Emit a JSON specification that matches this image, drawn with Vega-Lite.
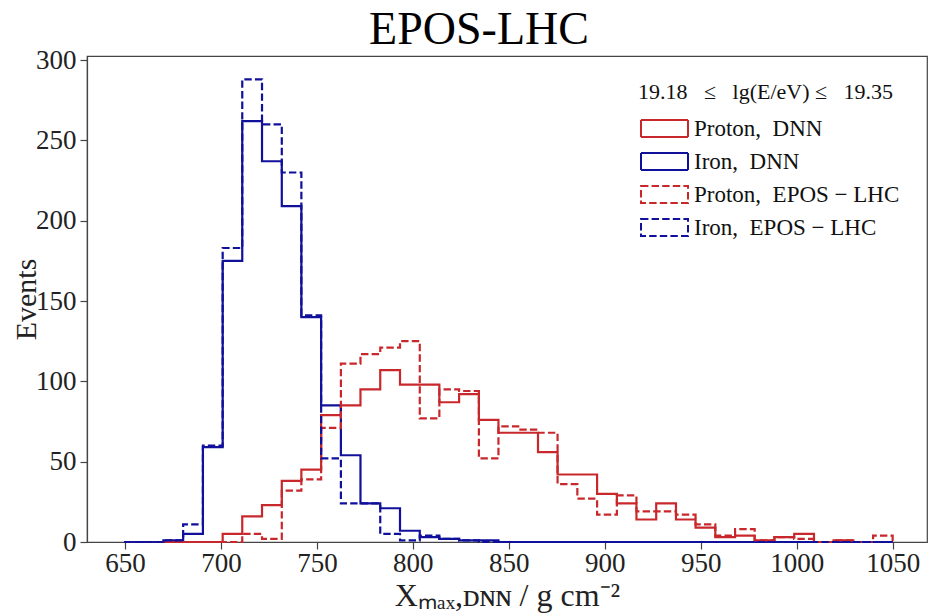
{
  "$schema": "https://vega.github.io/schema/vega-lite/v6.json",
  "width": 840,
  "height": 486,
  "autosize": {"type": "none"},
  "padding": {"left": 87, "top": 56, "right": 6, "bottom": 74},
  "background": "white",
  "title": {"text": "EPOS-LHC", "font": "Liberation Serif", "fontSize": 46, "fontWeight": "normal", "color": "black", "anchor": "middle", "frame": "group", "dx": -28, "dy": 14, "offset": 6},
  "config": {
    "view": {"stroke": "#444", "strokeWidth": 1.2},
    "axis": {"labelFont": "Liberation Serif", "labelFontSize": 27, "labelColor": "#222", "titleFont": "Liberation Serif", "titleFontWeight": "normal", "titleColor": "#222", "domainColor": "#444", "tickColor": "#444", "tickSize": 7, "grid": false, "domainWidth": 1.2, "tickWidth": 1.2},
    "legend": {"orient": "none", "legendX": 551, "legendY": 26, "padding": 0, "titleFont": "Liberation Serif", "titleFontSize": 22, "titleFontWeight": "normal", "titleColor": "#111", "titlePadding": 13, "titleLimit": 400, "labelFont": "Liberation Serif", "labelFontSize": 23, "labelColor": "#111", "labelLimit": 400, "symbolType": "M-2.35,-0.85H2.35V0.85H-2.35Z", "symbolSize": 400, "symbolStrokeWidth": 2, "symbolFillColor": "transparent", "labelOffset": 18, "rowPadding": 8, "symbolOffset": 15}
  },
  "data": {"values": [
    {"i": 0, "x": 649.5, "pd": 0, "id": 0, "pe": 0, "ie": 0},
    {"i": 1, "x": 649.5, "pd": 0, "id": 0, "pe": 0, "ie": 0},
    {"i": 2, "x": 659.8, "pd": 0, "id": 0, "pe": 0, "ie": 0},
    {"i": 3, "x": 670.0, "pd": 0, "id": 1, "pe": 0, "ie": 1},
    {"i": 4, "x": 680.3, "pd": 0, "id": 5, "pe": 0, "ie": 11},
    {"i": 5, "x": 690.6, "pd": 0, "id": 59, "pe": 0, "ie": 60},
    {"i": 6, "x": 700.9, "pd": 5, "id": 175, "pe": 0, "ie": 183},
    {"i": 7, "x": 711.1, "pd": 16, "id": 262, "pe": 5, "ie": 288},
    {"i": 8, "x": 721.4, "pd": 23, "id": 237, "pe": 2, "ie": 260},
    {"i": 9, "x": 731.7, "pd": 38, "id": 209, "pe": 32, "ie": 230},
    {"i": 10, "x": 741.9, "pd": 45, "id": 140, "pe": 39, "ie": 141},
    {"i": 11, "x": 752.2, "pd": 79, "id": 85, "pe": 71, "ie": 52},
    {"i": 12, "x": 762.5, "pd": 85, "id": 54, "pe": 111, "ie": 24},
    {"i": 13, "x": 772.7, "pd": 95, "id": 24, "pe": 117, "ie": 24},
    {"i": 14, "x": 783.0, "pd": 107, "id": 21, "pe": 121, "ie": 5},
    {"i": 15, "x": 793.3, "pd": 98, "id": 7, "pe": 125, "ie": 1},
    {"i": 16, "x": 803.6, "pd": 98, "id": 3, "pe": 77, "ie": 4},
    {"i": 17, "x": 813.8, "pd": 87, "id": 2, "pe": 95, "ie": 2},
    {"i": 18, "x": 824.1, "pd": 92, "id": 1, "pe": 94, "ie": 1},
    {"i": 19, "x": 834.4, "pd": 76, "id": 1, "pe": 52, "ie": 0},
    {"i": 20, "x": 844.6, "pd": 68, "id": 0, "pe": 72, "ie": 0},
    {"i": 21, "x": 854.9, "pd": 68, "id": 0, "pe": 70, "ie": 0},
    {"i": 22, "x": 865.2, "pd": 56, "id": 0, "pe": 68, "ie": 0},
    {"i": 23, "x": 875.4, "pd": 42, "id": 0, "pe": 36, "ie": 0},
    {"i": 24, "x": 885.7, "pd": 42, "id": 0, "pe": 27, "ie": 0},
    {"i": 25, "x": 896.0, "pd": 30, "id": 0, "pe": 17, "ie": 0},
    {"i": 26, "x": 906.3, "pd": 24, "id": 0, "pe": 29, "ie": 0},
    {"i": 27, "x": 916.5, "pd": 14, "id": 0, "pe": 19, "ie": 0},
    {"i": 28, "x": 926.8, "pd": 24, "id": 0, "pe": 19, "ie": 0},
    {"i": 29, "x": 937.1, "pd": 14, "id": 0, "pe": 17, "ie": 0},
    {"i": 30, "x": 947.3, "pd": 9, "id": 0, "pe": 11, "ie": 0},
    {"i": 31, "x": 957.6, "pd": 3, "id": 0, "pe": 4, "ie": 0},
    {"i": 32, "x": 967.9, "pd": 4, "id": 0, "pe": 8, "ie": 0},
    {"i": 33, "x": 978.1, "pd": 1, "id": 0, "pe": 1, "ie": 0},
    {"i": 34, "x": 988.4, "pd": 3, "id": 0, "pe": 3, "ie": 0},
    {"i": 35, "x": 998.7, "pd": 5, "id": 0, "pe": 2, "ie": 0},
    {"i": 36, "x": 1009.0, "pd": 0, "id": 0, "pe": 0, "ie": 0},
    {"i": 37, "x": 1019.2, "pd": 1, "id": 0, "pe": 1, "ie": 0},
    {"i": 38, "x": 1029.5, "pd": 0, "id": 0, "pe": 0, "ie": 0},
    {"i": 39, "x": 1039.8, "pd": 0, "id": 0, "pe": 4, "ie": 0},
    {"i": 40, "x": 1050.0, "pd": 0, "id": 0, "pe": 4, "ie": 0},
    {"i": 41, "x": 1050.0, "pd": 0, "id": 0, "pe": 0, "ie": 0}
  ]},
  "transform": [{"fold": ["pd", "id", "pe", "ie"], "as": ["s", "y"]}],
  "mark": {"type": "line", "interpolate": "step-after", "strokeWidth": 2.2},
  "encoding": {
    "x": {"field": "x", "type": "quantitative", "scale": {"domain": [630.2, 1067.9], "nice": false, "zero": false},
      "axis": {"values": [650, 700, 750, 800, 850, 900, 950, 1000, 1050], "format": "d", "title": "Xₘₐₓ,ᴅɴɴ / g cm⁻²", "titleFontSize": 32, "labelPadding": 1, "titlePadding": 4, "labelFlush": false}},
    "y": {"field": "y", "type": "quantitative", "scale": {"domain": [0, 302.5], "nice": false},
      "axis": {"values": [0, 50, 100, 150, 200, 250, 300], "format": "d", "title": "Events", "titleFontSize": 30, "labelPadding": 4, "titlePadding": -6}},
    "color": {"field": "s", "type": "nominal", "title": "19.18 \u2002≤\u2002 lg(E/eV) ≤\u2002 19.35",
      "scale": {"domain": ["pd", "id", "pe", "ie"], "range": ["#c8282c", "#10109a", "#c8282c", "#10109a"]},
      "legend": {"labelExpr": "datum.label == 'pd' ? 'Proton,\u2002DNN' : datum.label == 'id' ? 'Iron,\u2002DNN' : datum.label == 'pe' ? 'Proton,\u2002EPOS − LHC' : 'Iron,\u2002EPOS − LHC'"}},
    "strokeDash": {"field": "s", "type": "nominal", "title": "19.18 \u2002≤\u2002 lg(E/eV) ≤\u2002 19.35",
      "scale": {"domain": ["pd", "id", "pe", "ie"], "range": [[1, 0], [1, 0], [7.4, 3.2], [7.4, 3.2]]},
      "legend": {"labelExpr": "datum.label == 'pd' ? 'Proton,\u2002DNN' : datum.label == 'id' ? 'Iron,\u2002DNN' : datum.label == 'pe' ? 'Proton,\u2002EPOS − LHC' : 'Iron,\u2002EPOS − LHC'"}},
    "order": {"field": "i", "type": "quantitative"}
  }
}
